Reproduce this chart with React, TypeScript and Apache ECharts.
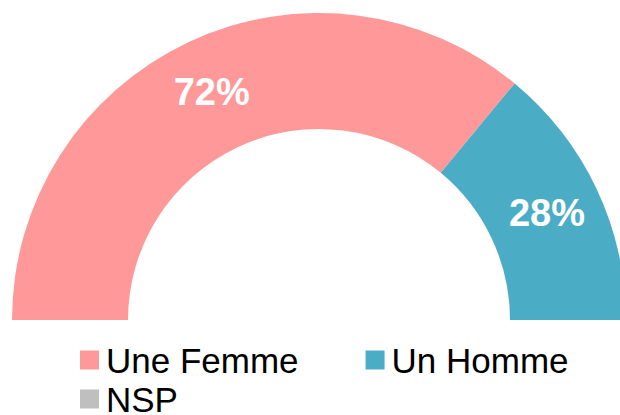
import React, { useEffect, useRef } from "react";
import * as echarts from "echarts";

const categories = ["Une Femme", "Un Homme", "NSP"];
const values = [72, 28, 0];
const colors = ["#FF9999", "#4BACC6", "#BFBFBF"];

export default function App() {
  const ref = useRef<HTMLDivElement>(null);
  useEffect(() => {
    if (!ref.current) return;
    const chart = echarts.init(ref.current, null, { renderer: "svg" });
    const font = "'Liberation Sans', Arial, sans-serif";
    const legendText = {
      fontSize: 35,
      lineHeight: 36,
      color: "#000",
      fontFamily: font,
      padding: [0, 0, 0, 2],
    };
    chart.setOption({
      animation: false,
      color: colors,
      legend: [
        {
          data: [categories[0], categories[1]],
          left: 80,
          top: 342,
          padding: 0,
          icon: "rect",
          itemWidth: 19,
          itemHeight: 19,
          itemGap: 67,
          textStyle: legendText,
          selectedMode: false,
        },
        {
          data: [categories[2]],
          left: 80,
          top: 381,
          padding: 0,
          icon: "rect",
          itemWidth: 19,
          itemHeight: 19,
          textStyle: legendText,
          selectedMode: false,
        },
      ],
      series: [
        {
          type: "pie",
          center: [319, 320],
          radius: [191, 307],
          startAngle: 180,
          endAngle: 0,
          clockwise: true,
          avoidLabelOverlap: false,
          label: {
            show: true,
            position: "inside",
            formatter: "{c}%",
            color: "#fff",
            fontSize: 38,
            fontWeight: "bold",
            fontFamily: font,
            padding: [8, 0, 0, 0],
          },
          labelLine: { show: false },
          emphasis: { disabled: true },
          itemStyle: { borderWidth: 0 },
          data: categories.map((name, i) => ({
            name,
            value: values[i],
            label: values[i] === 0 ? { show: false } : undefined,
          })),
        },
      ],
    });
    return () => chart.dispose();
  }, []);
  return (
    <div
      ref={ref}
      style={{ position: "fixed", left: 0, top: 0, width: 620, height: 415, background: "#fff" }}
    />
  );
}
